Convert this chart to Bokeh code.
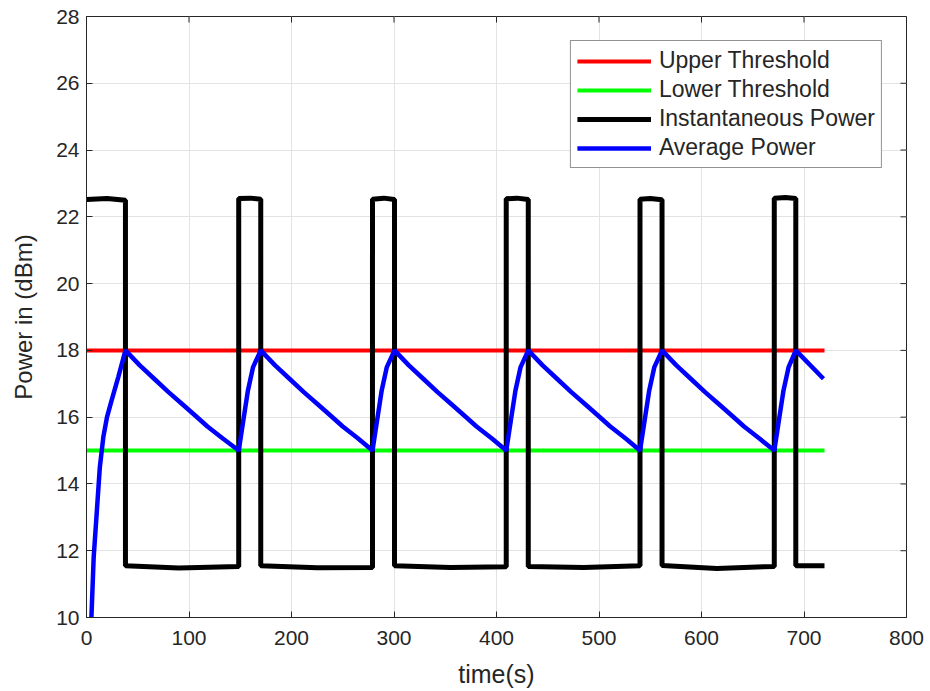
import math
from bokeh.plotting import figure
from bokeh.models import Range1d, FixedTicker, Legend, LegendItem
from bokeh.embed import file_html
from bokeh.resources import INLINE

# ---- data ----
thr_t = [0, 720]
upper_p = [18, 18]
lower_p = [15, 15]

inst_t = [0, 20, 38, 38, 90, 148.5, 148.5, 160, 170, 170, 225, 279, 279, 290, 300.5,
          300.5, 355, 409.5, 409.5, 420, 431, 431, 485, 540, 540, 550, 561.5,
          561.5, 615, 671, 671, 682, 692, 692, 720]
inst_p = [22.52, 22.55, 22.5, 11.55, 11.48, 11.53, 22.55, 22.56, 22.53, 11.55, 11.49,
          11.5, 22.53, 22.56, 22.52, 11.55, 11.5, 11.52, 22.54, 22.56, 22.52,
          11.53, 11.5, 11.55, 22.53, 22.55, 22.51, 11.56, 11.47, 11.53, 22.56,
          22.58, 22.55, 11.55, 11.55]

avg_t = [4.3, 7, 9.9, 13, 16.4, 20, 24.5, 31, 38,
         52, 66, 80, 93, 106, 118, 133, 148.5, 153, 157.5, 162.5, 170,
         184, 198, 212, 225, 238, 250, 265, 279, 283.5, 288, 293, 300.5,
         314.5, 328.5, 342.5, 355.5, 368.5, 380.5, 395.5, 409.5, 414, 418.5, 423.5, 431,
         445, 459, 473, 486, 499, 511, 526, 540, 544.5, 549, 554, 561.5,
         575.5, 589.5, 603.5, 616.5, 629.5, 641.5, 656.5, 671, 675.5, 680, 685, 692,
         719]
avg_p = [9.6, 11.8, 13.1, 14.5, 15.4, 16.0, 16.5, 17.2, 18.0,
         17.55, 17.15, 16.75, 16.4, 16.05, 15.72, 15.36, 15.0, 15.9, 16.8, 17.5, 18.0,
         17.55, 17.15, 16.75, 16.4, 16.05, 15.72, 15.36, 15.0, 15.9, 16.8, 17.5, 18.0,
         17.55, 17.15, 16.75, 16.4, 16.05, 15.72, 15.36, 15.0, 15.9, 16.8, 17.5, 18.0,
         17.55, 17.15, 16.75, 16.4, 16.05, 15.72, 15.36, 15.0, 15.9, 16.8, 17.5, 18.0,
         17.55, 17.15, 16.75, 16.4, 16.05, 15.72, 15.36, 15.0, 15.9, 16.8, 17.5, 18.0,
         17.15]

x_ticks = [0, 100, 200, 300, 400, 500, 600, 700, 800]
y_ticks = [10, 12, 14, 16, 18, 20, 22, 24, 26, 28]
x_min, x_max = 0, 800
y_min, y_max = 10, 28

FONT = "Liberation Sans"
DARK = "#262626"
GRID = "#e3e3e3"

p = figure(frame_width=820, frame_height=601,
           min_border_left=86, min_border_right=22, min_border_top=16, min_border_bottom=73,
           x_range=Range1d(x_min, x_max), y_range=Range1d(y_min, y_max),
           output_backend="svg", toolbar_location=None)
p.background_fill_color = "white"
p.border_fill_color = "white"
p.outline_line_color = DARK
p.outline_line_width = 1

for ax in (p.xaxis[0], p.yaxis[0]):
    ax.axis_line_color = DARK
    ax.major_tick_line_color = DARK
    ax.major_tick_in = 6
    ax.major_tick_out = 0
    ax.minor_tick_line_color = None
    ax.major_label_text_font = FONT
    ax.major_label_text_font_size = "21px"
    ax.major_label_text_color = DARK
    ax.axis_label_text_font = FONT
    ax.axis_label_text_font_style = "normal"
    ax.axis_label_text_color = DARK

p.xaxis[0].ticker = FixedTicker(ticks=x_ticks)
p.yaxis[0].ticker = FixedTicker(ticks=y_ticks)
p.xaxis[0].axis_label = "time(s)"
p.yaxis[0].axis_label = "Power in (dBm)"
p.xaxis[0].axis_label_text_font_size = "25px"
p.yaxis[0].axis_label_text_font_size = "24px"
p.xaxis[0].major_label_standoff = 13
p.yaxis[0].major_label_standoff = 7
p.xaxis[0].axis_label_standoff = 12
p.yaxis[0].axis_label_standoff = 16

p.xgrid.ticker = FixedTicker(ticks=x_ticks)
p.ygrid.ticker = FixedTicker(ticks=y_ticks)
p.grid.grid_line_color = GRID
p.grid.grid_line_width = 1

# box-style inward ticks on the top and right edges
p.ray(x=x_ticks, y=[y_max] * len(x_ticks), length=6, length_units="screen",
      angle=-math.pi / 2, line_color=DARK, line_width=1)
p.ray(x=[x_max] * len(y_ticks), y=y_ticks, length=6, length_units="screen",
      angle=math.pi, line_color=DARK, line_width=1)

r_up = p.line(thr_t, upper_p, line_color="#ff0000", line_width=4)
r_lo = p.line(thr_t, lower_p, line_color="#00ff00", line_width=4)
r_in = p.line(inst_t, inst_p, line_color="#000000", line_width=5)
r_av = p.line(avg_t, avg_p, line_color="#0000ff", line_width=4.5)

legend = Legend(items=[
    LegendItem(label="Upper Threshold", renderers=[r_up]),
    LegendItem(label="Lower Threshold", renderers=[r_lo]),
    LegendItem(label="Instantaneous Power", renderers=[r_in]),
    LegendItem(label="Average Power", renderers=[r_av]),
], location="top_right")
legend.margin = 24
legend.padding = 6
legend.spacing = 2
legend.glyph_width = 74
legend.glyph_height = 22
legend.label_height = 22
legend.label_standoff = 8
legend.label_text_font = FONT
legend.label_text_font_size = "23px"
legend.label_text_color = DARK
legend.border_line_color = DARK
legend.border_line_width = 1
legend.background_fill_color = "white"
legend.background_fill_alpha = 1
p.add_layout(legend)

open("out.html", "w").write(file_html(p, INLINE))
